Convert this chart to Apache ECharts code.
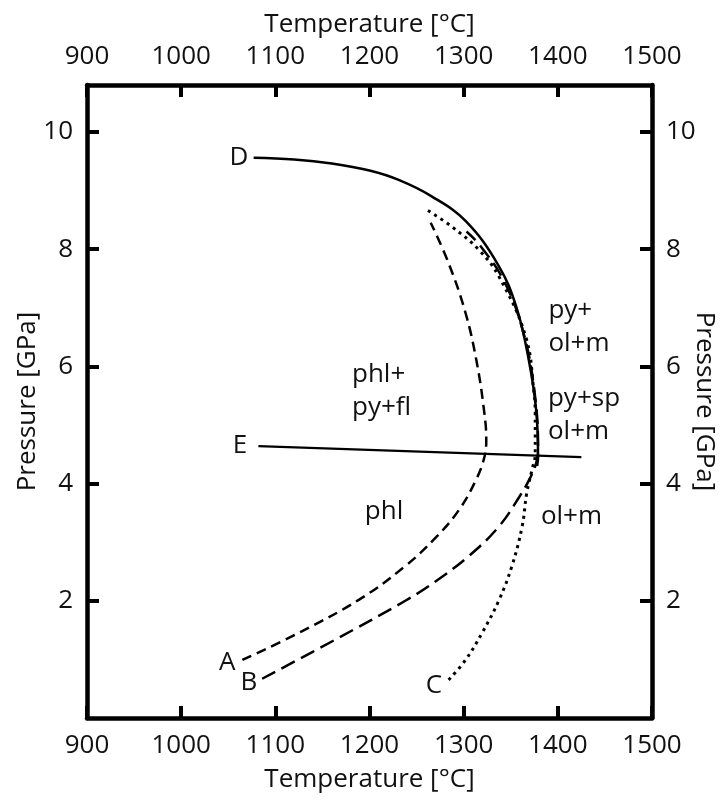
<!DOCTYPE html>
<html>
<head>
<meta charset="utf-8">
<script src="https://cdn.jsdelivr.net/npm/echarts@6/dist/echarts.min.js"></script>
<style>
  html, body { margin: 0; padding: 0; background: #fff; }
  #main { width: 720px; height: 803px; }
</style>
</head>
<body>
<div id="main"></div>
<script>
// tick labels
var xTicks = [900, 1000, 1100, 1200, 1300, 1400, 1500];
var yTicks = [2, 4, 6, 8, 10];

// curves, [temperature, pressure]
var curveD = [[1077, 9.56], [1120, 9.53], [1160, 9.46], [1200, 9.34], [1231, 9.18], [1266, 8.9],
    [1302, 8.48], [1337, 7.72], [1356, 7.01], [1369, 6.12], [1377, 5.25], [1379, 4.45], [1378, 4.3]];
var curveE = [[1082, 4.64], [1425, 4.45]];
var curveA = [[1065, 0.99], [1127, 1.47], [1189, 2.02], [1237, 2.58], [1271, 3.09], [1295, 3.55], [1313, 4.06],
    [1322, 4.45], [1324, 4.75], [1322, 5.2], [1314, 6.06], [1302, 6.91], [1284, 7.76], [1265, 8.45]];
var curveB = [[1086, 0.67], [1164, 1.34], [1238, 2.0], [1270, 2.33], [1306, 2.77], [1337, 3.26],
    [1359, 3.77], [1371, 4.11], [1377, 4.35], [1379, 4.6], [1375, 5.6], [1363, 6.6], [1343, 7.45],
    [1318, 8.05], [1303, 8.3]];
var curveC = [[1284, 0.65], [1302, 0.99], [1319.5, 1.45], [1337.5, 2.01], [1351, 2.58], [1362, 3.26],
    [1367, 3.84], [1372.5, 4.23], [1376, 4.5], [1376, 5.2], [1374.7, 5.55], [1366, 6.5],
    [1337.5, 7.53], [1316, 7.99], [1287.6, 8.38], [1261, 8.67]];

// text labels on the diagram
var curveNames = [
    {name: 'A', value: [1049, 0.94]},
    {name: 'B', value: [1072, 0.61]},
    {name: 'C', value: [1268.5, 0.56]},
    {name: 'D', value: [1061.4, 9.56]},
    {name: 'E', value: [1062.5, 4.64]},
    {name: 'phl', value: [1215.4, 3.52]}
];
var fieldNames = [
    {name: 'phl+\npy+fl', value: [1181.4, 5.58]},
    {name: 'py+\nol+m', value: [1390, 6.67]},
    {name: 'py+sp\nol+m', value: [1389.5, 5.17]},
    {name: 'ol+m', value: [1382, 3.43]}
];

var FONT = 'Open Sans';
var INK = '#111';

function xAxisDef(pos) {
    return {
        type: 'value', position: pos, min: 900, max: 1500, interval: 100,
        name: 'Temperature [°C]', nameLocation: 'middle', nameGap: pos == 'bottom' ? 49 : 47,
        nameMoveOverlap: false,
        nameTextStyle: {fontFamily: FONT, fontSize: 26, color: INK},
        axisLine: {show: true, onZero: false, lineStyle: {color: '#000', width: 4.5}},
        axisTick: {show: true, inside: true, length: 12, lineStyle: {color: '#000', width: 4}},
        axisLabel: {margin: 15, fontFamily: FONT, fontSize: 26, color: INK,
            formatter: function (v) { return String(v); }},
        splitLine: {show: false}
    };
}
function yAxisDef(pos) {
    return {
        type: 'value', position: pos, min: 0, max: 10.8,
        name: 'Pressure [GPa]', nameLocation: 'middle', nameGap: pos == 'left' ? 46 : 39,
        nameRotate: pos == 'left' ? 90 : -90,
        nameMoveOverlap: false,
        nameTextStyle: {fontFamily: FONT, fontSize: 26, color: INK},
        axisLine: {show: true, onZero: false, lineStyle: {color: '#000', width: 4.5}},
        axisTick: {show: true, inside: true, length: 12, customValues: yTicks, lineStyle: {color: '#000', width: 4}},
        axisLabel: {margin: 14, customValues: yTicks, fontFamily: FONT, fontSize: 26, color: INK},
        splitLine: {show: false}
    };
}

function curve(data, type, width) {
    return {
        type: 'line', data: data, smooth: 0.4, symbol: 'none', silent: true,
        lineStyle: {color: '#000', width: width, type: type, cap: 'butt'}
    };
}

var chart = echarts.init(document.getElementById('main'));
chart.setOption({
    animation: false,
    backgroundColor: '#fff',
    grid: {left: 87, right: 68, top: 85, bottom: 85, outerBoundsMode: 'none', containLabel: false},
    xAxis: [xAxisDef('bottom'), xAxisDef('top')],
    yAxis: [yAxisDef('left'), yAxisDef('right')],
    series: [
        curve(curveD, 'solid', 2.5),
        curve(curveE, 'solid', 2.2),
        curve(curveA, [10, 6], 2.5),
        curve(curveB, [15, 7], 2.5),
        curve(curveC, [3, 4.5], 3),
        {
            type: 'scatter', data: curveNames, symbolSize: 0, silent: true,
            itemStyle: {opacity: 1},
            label: {show: true, position: 'inside', formatter: '{b}',
                fontFamily: FONT, fontSize: 26, color: INK, textBorderWidth: 0}
        },
        {
            type: 'scatter', data: fieldNames, symbolSize: 0, silent: true,
            itemStyle: {opacity: 1},
            label: {show: true, position: [0, 0], align: 'left', verticalAlign: 'middle',
                formatter: '{b}', fontFamily: FONT, fontSize: 26, lineHeight: 33, color: INK}
        }
    ]
});
</script>
</body>
</html>
